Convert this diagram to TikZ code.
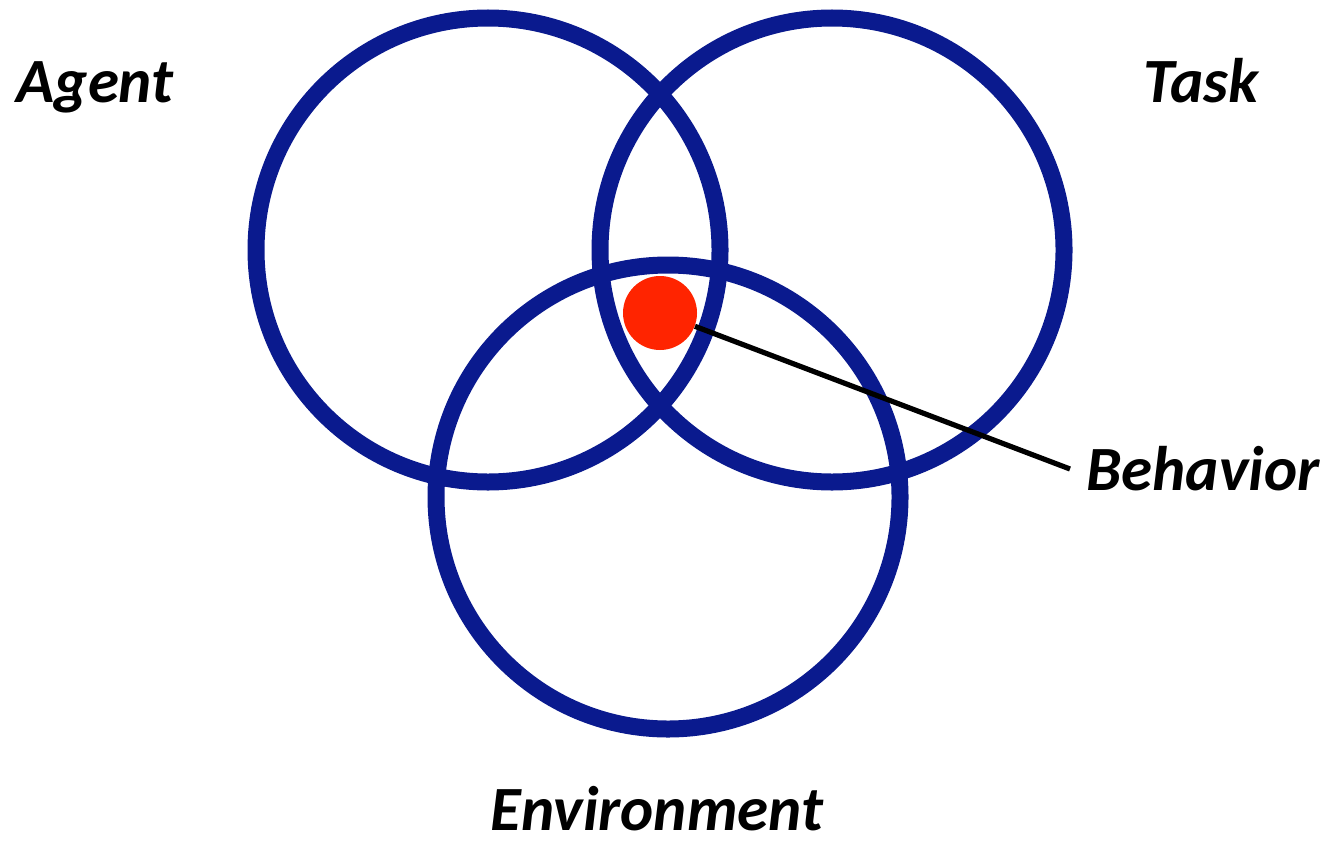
\documentclass[tikz,border=0pt]{standalone}
\usepackage{fontspec}
\setmainfont{Carlito}
\usepackage{tikz}
\usetikzlibrary{
  arrows.meta,
  positioning,
  calc
}
\definecolor{vnBlue}{HTML}{0A1A8E}
\definecolor{vnRed}{HTML}{FF2400}
\tikzset{
  venn/.style={
    draw=vnBlue, circle, line width=8.5pt, minimum size=232pt, inner sep=0pt
  },
  behdot/.style={circle, fill=vnRed, minimum size=37pt, inner sep=0pt},
  setlabel/.style={font=\fontsize{31.5}{38}\selectfont\bfseries\itshape, inner sep=0pt},
  pointer/.style={line width=2.6pt, black}
}
\begin{document}
\begin{tikzpicture}[x=0.5pt, y=-0.5pt]
  \useasboundingbox (0,0) rectangle (1331,840);
  \node[venn] (agent) at (488,250) {};
  \node[venn] (task) at (832,250) {};
  \node[venn] (env) at (668,497) {};
  \node[behdot] (beh) at (660,313) {};
  % labels
  \node[setlabel, anchor=base] (agentlbl) at (95,103) {Agent};
  \node[setlabel, anchor=base] (tasklbl) at (1201,103) {Task};
  \node[setlabel, anchor=base] (envlbl) at (657,830) {Environment};
  \node[setlabel, anchor=west, inner xsep=8pt] (behlbl) at (1070,469) {Behavior};
  \draw[pointer] (beh) -- (behlbl.west);
\end{tikzpicture}
\end{document}
